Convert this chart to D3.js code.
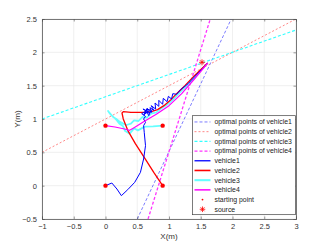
<!DOCTYPE html>
<html lang="en">
<head>
<meta charset="utf-8">
<style>
  body { margin: 0; background: #fff; }
  text { font-family: "Liberation Sans", Arial, sans-serif; }
  .grid line { stroke: #e6e6e6; stroke-width: 0.6; }
</style>
</head>
<body>
<script src="https://cdn.jsdelivr.net/npm/d3@7"></script>
<script>
// tick labels
var xTicks = [-1, -0.5, 0, 0.5, 1, 1.5, 2, 2.5, 3];
var yTicks = [-0.5, 0, 0.5, 1, 1.5, 2, 2.5];

// optimal point lines (two end points each)
var opt1 = [[0.5, -0.5], [1.98, 2.5]];
var opt2 = [[-1, 0.5], [3, 2.5]];
var opt3 = [[-1, 1.0], [3, 2.335]];
var opt4 = [[0.67, -0.5], [1.65, 2.5]];

// trajectories
var vehicle1 = [[0,0],[0.1,0.04],[0.18,-0.05],[0.25,-0.15],[0.35,-0.06],[0.46,0.05],[0.55,0.2],[0.6,0.4],
  [0.63,0.6],[0.61,0.8],[0.6,0.9],[0.63,0.95],[0.6,1.0],[0.63,1.04],[0.57,1.08],[0.64,1.12],[0.59,1.15],
  [0.67,1.11],[0.6,1.06],[0.66,1.16],[0.62,1.1],[0.7,1.09],[0.64,1.14],[0.68,1.05],[0.72,1.13],
  [0.65,1.15],[0.73,1.1],[0.7,1.17],[0.76,1.13],[0.72,1.2],[0.79,1.15],[0.78,1.24],
  [0.84,1.19],[0.84,1.28],[0.9,1.22],[0.91,1.31],[0.97,1.26],[0.99,1.34],[1.04,1.3],[1.06,1.38],
  [1.12,1.37],[1.18,1.44],[1.25,1.49],[1.3,1.53],[1.35,1.58],[1.4,1.63],[1.47,1.7],[1.53,1.76],[1.61,1.84]];
var vehicle2 = [[0.9,0],[0.76,0.2],[0.62,0.41],[0.47,0.63],[0.35,0.83],[0.28,1.0],[0.26,1.09],[0.28,1.11],
  [0.4,1.1],[0.6,1.1],[0.72,1.11],[0.82,1.14],[0.92,1.2],[1.02,1.28],[1.12,1.38],[1.25,1.5],[1.4,1.65],[1.61,1.84]];
var vehicle3 = [[0.9,0.9],[0.75,0.89],[0.62,0.885],[0.51,0.83],[0.45,0.86],[0.38,0.78],[0.31,0.82],
  [0.27,0.9],[0.22,0.93],[0.18,0.98],[0.15,1.01],[0.1,1.05],[0.07,1.08],[0.04,1.12],[0.12,1.03],
  [0.17,1.0],[0.22,0.96],[0.28,0.93],[0.33,0.91],[0.4,0.93],[0.45,0.98],[0.52,0.97],[0.58,1.03],
  [0.65,1.02],[0.72,1.08],[0.8,1.1],[0.88,1.16],[0.96,1.21],[1.05,1.28],[1.15,1.38],[1.3,1.52],[1.45,1.68],[1.61,1.84]];
var vehicle4 = [[0,0.9],[0.15,0.88],[0.3,0.85],[0.38,0.83],[0.45,0.87],[0.6,0.96],[0.8,1.07],[1.0,1.2],
  [1.2,1.38],[1.4,1.6],[1.61,1.84]];

var startPoints = [[0,0],[0.9,0],[0,0.9],[0.9,0.9]];
var source = [1.52, 1.85];

var legendNames = ["optimal points of vehicle1","optimal points of vehicle2","optimal points of vehicle3",
  "optimal points of vehicle4","vehicle1","vehicle2","vehicle3","vehicle4","starting point","source"];

var W = 327, H = 245;
var margin = {top: 19, right: 31, bottom: 26, left: 42};
var width = W - margin.left - margin.right,
    height = H - margin.top - margin.bottom;

var x = d3.scaleLinear().domain([-1, 3]).range([0, width]);
var y = d3.scaleLinear().domain([-0.5, 2.5]).range([height, 0]);

var svg = d3.select("body").append("svg")
  .attr("width", W).attr("height", H)
  .append("g")
  .attr("transform", "translate(" + margin.left + "," + margin.top + ")");

svg.append("defs").append("clipPath").attr("id", "clip")
  .append("rect").attr("width", width).attr("height", height);

// grid
svg.append("g").attr("class", "grid")
  .selectAll("line.gx").data(xTicks).enter().append("line")
  .attr("x1", function(d) { return x(d); }).attr("x2", function(d) { return x(d); })
  .attr("y1", 0).attr("y2", height);
svg.append("g").attr("class", "grid")
  .selectAll("line.gy").data(yTicks).enter().append("line")
  .attr("y1", function(d) { return y(d); }).attr("y2", function(d) { return y(d); })
  .attr("x1", 0).attr("x2", width);

var line = d3.line().x(function(d) { return x(d[0]); }).y(function(d) { return y(d[1]); });
var plot = svg.append("g").attr("clip-path", "url(#clip)");

// optimal lines
var optStyles = [
  {data: opt1, color: "#5a5aff", w: 0.8, dash: "3,2"},
  {data: opt2, color: "#ff6a6a", w: 0.8, dash: "2,2"},
  {data: opt3, color: "#33ffff", w: 1.1, dash: "3,2"},
  {data: opt4, color: "#ff33ff", w: 1.3, dash: "3,2"}
];
optStyles.forEach(function(s) {
  plot.append("path").attr("d", line(s.data)).attr("fill", "none")
    .attr("stroke", s.color).attr("stroke-width", s.w).attr("stroke-dasharray", s.dash);
});

// trajectories
var trajStyles = [
  {data: vehicle3, color: "#66ffff", w: 1.8},
  {data: vehicle2, color: "#ff0000", w: 1.3},
  {data: vehicle1, color: "#0000ff", w: 1.0},
  {data: vehicle4, color: "#ff00ff", w: 1.2}
];
trajStyles.forEach(function(s) {
  plot.append("path").attr("d", line(s.data)).attr("fill", "none")
    .attr("stroke", s.color).attr("stroke-width", s.w).attr("stroke-linejoin", "round");
});

// starting points
plot.selectAll("circle.start").data(startPoints).enter().append("circle")
  .attr("cx", function(d) { return x(d[0]); }).attr("cy", function(d) { return y(d[1]); })
  .attr("r", 2.2).attr("fill", "#ff0000");

// source asterisk
function asterisk(g, cx, cy, r) {
  var p = "M" + (cx - r) + "," + cy + "H" + (cx + r) +
          "M" + cx + "," + (cy - r) + "V" + (cy + r) +
          "M" + (cx - r * 0.7) + "," + (cy - r * 0.7) + "L" + (cx + r * 0.7) + "," + (cy + r * 0.7) +
          "M" + (cx - r * 0.7) + "," + (cy + r * 0.7) + "L" + (cx + r * 0.7) + "," + (cy - r * 0.7);
  g.append("path").attr("d", p).attr("stroke", "#ff0000").attr("stroke-width", 0.8).attr("fill", "none");
}
asterisk(plot, x(source[0]), y(source[1]), 3);

// axes (ticks inside)
svg.append("g").attr("transform", "translate(0," + height + ")")
  .call(d3.axisBottom(x).tickValues(xTicks).tickSize(-2.5).tickPadding(5).tickFormat(d3.format("")));
svg.append("g")
  .call(d3.axisLeft(y).tickValues(yTicks).tickSize(-2.5).tickPadding(5).tickFormat(d3.format("")));
svg.append("g")
  .call(d3.axisTop(x).tickValues(xTicks).tickSize(-2.5).tickFormat(""));
svg.append("g").attr("transform", "translate(" + width + ",0)")
  .call(d3.axisRight(y).tickValues(yTicks).tickSize(-2.5).tickFormat(""));
svg.selectAll(".domain").attr("stroke", "#555").attr("stroke-width", 0.8);
svg.selectAll(".tick line").attr("stroke", "#555").attr("stroke-width", 0.6);
svg.selectAll(".tick text").attr("fill", "#333").style("font-size", "7.5px");

// axis labels
svg.append("text").attr("x", width / 2).attr("y", height + 20)
  .attr("text-anchor", "middle").attr("fill", "#333").style("font-size", "8px").text("X(m)");
svg.append("text").attr("transform", "rotate(-90)")
  .attr("x", -height / 2).attr("y", -22)
  .attr("text-anchor", "middle").attr("fill", "#333").style("font-size", "8px").text("Y(m)");

// legend
var lx = x(1.37), ly = y(1.05), lw = 103, lh = 99, rowH = 9.7;
var legend = svg.append("g").attr("transform", "translate(" + lx + "," + ly + ")");
legend.append("rect").attr("width", lw).attr("height", lh)
  .attr("fill", "#fff").attr("stroke", "#444").attr("stroke-width", 0.7);
var legendStyles = [optStyles[0], optStyles[1], optStyles[2], optStyles[3],
  trajStyles[2], trajStyles[1], trajStyles[0], trajStyles[3]];
legendNames.forEach(function(name, i) {
  var cy = 6.3 + i * rowH;
  if (i < 8) {
    var s = legendStyles[i];
    legend.append("line").attr("x1", 2).attr("x2", 18).attr("y1", cy).attr("y2", cy)
      .attr("stroke", s.color).attr("stroke-width", i < 4 ? s.w : s.w + 0.3)
      .attr("stroke-dasharray", i < 4 ? s.dash : null);
  } else if (i === 8) {
    legend.append("circle").attr("cx", 10).attr("cy", cy).attr("r", 0.9).attr("fill", "#ff0000");
  } else {
    asterisk(legend, 10, cy, 2.8);
  }
  legend.append("text").attr("x", 22).attr("y", cy).attr("dy", "0.35em")
    .attr("fill", "#222").style("font-size", "6.9px").text(name);
});
</script>
</body>
</html>
